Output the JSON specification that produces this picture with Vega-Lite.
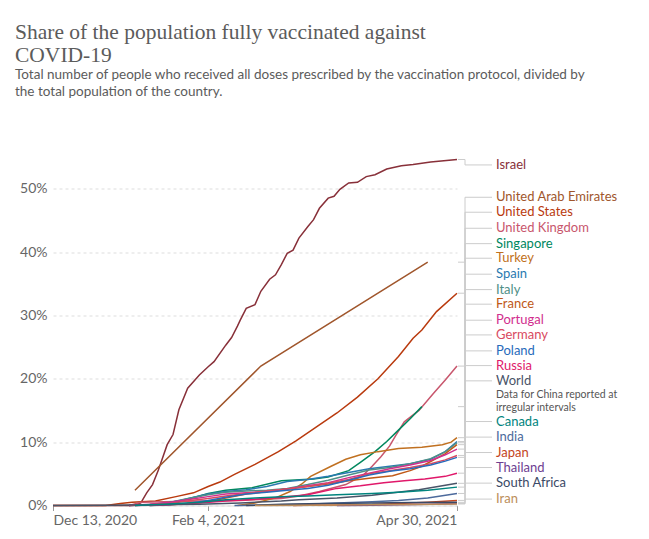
{
  "$schema": "https://vega.github.io/schema/vega-lite/v6.json",
  "width": 404,
  "height": 346,
  "autosize": "none",
  "padding": {"left": 53, "top": 159.5, "right": 192, "bottom": 33.5},
  "background": "white",
  "config": {"view": {"stroke": null}, "font": "Lato"},
  "title": {
    "text": ["Share of the population fully vaccinated against", "COVID-19"],
    "subtitle": ["Total number of people who received all doses prescribed by the vaccination protocol, divided by", "the total population of the country."],
    "anchor": "start", "frame": "group", "dx": -38, "offset": 58,
    "font": "Liberation Serif", "fontSize": 21.5, "fontWeight": "normal", "color": "#5b5b5b", "lineHeight": 23,
    "subtitleFont": "Lato", "subtitleFontSize": 13.5, "subtitleColor": "#5b5b5b", "subtitleLineHeight": 17, "subtitlePadding": 2
  },
  "datasets": {
    "series": [
      {"country": "Israel", "date": "2020-12-13", "share": 0},
      {"country": "Israel", "date": "2021-01-08", "share": 0},
      {"country": "Israel", "date": "2021-01-10", "share": 0.001},
      {"country": "Israel", "date": "2021-01-12", "share": 0.004},
      {"country": "Israel", "date": "2021-01-14", "share": 0.02},
      {"country": "Israel", "date": "2021-01-16", "share": 0.033},
      {"country": "Israel", "date": "2021-01-18", "share": 0.056},
      {"country": "Israel", "date": "2021-01-21", "share": 0.096},
      {"country": "Israel", "date": "2021-01-23", "share": 0.112},
      {"country": "Israel", "date": "2021-01-25", "share": 0.151},
      {"country": "Israel", "date": "2021-01-28", "share": 0.185},
      {"country": "Israel", "date": "2021-02-01", "share": 0.206},
      {"country": "Israel", "date": "2021-02-04", "share": 0.219},
      {"country": "Israel", "date": "2021-02-06", "share": 0.227},
      {"country": "Israel", "date": "2021-02-10", "share": 0.253},
      {"country": "Israel", "date": "2021-02-12", "share": 0.265},
      {"country": "Israel", "date": "2021-02-14", "share": 0.283},
      {"country": "Israel", "date": "2021-02-15", "share": 0.293},
      {"country": "Israel", "date": "2021-02-17", "share": 0.311},
      {"country": "Israel", "date": "2021-02-20", "share": 0.317},
      {"country": "Israel", "date": "2021-02-22", "share": 0.338},
      {"country": "Israel", "date": "2021-02-25", "share": 0.357},
      {"country": "Israel", "date": "2021-02-27", "share": 0.364},
      {"country": "Israel", "date": "2021-03-01", "share": 0.38},
      {"country": "Israel", "date": "2021-03-03", "share": 0.398},
      {"country": "Israel", "date": "2021-03-05", "share": 0.403},
      {"country": "Israel", "date": "2021-03-07", "share": 0.422},
      {"country": "Israel", "date": "2021-03-10", "share": 0.44},
      {"country": "Israel", "date": "2021-03-12", "share": 0.451},
      {"country": "Israel", "date": "2021-03-14", "share": 0.469},
      {"country": "Israel", "date": "2021-03-17", "share": 0.485},
      {"country": "Israel", "date": "2021-03-19", "share": 0.488},
      {"country": "Israel", "date": "2021-03-21", "share": 0.499},
      {"country": "Israel", "date": "2021-03-24", "share": 0.509},
      {"country": "Israel", "date": "2021-03-27", "share": 0.51},
      {"country": "Israel", "date": "2021-03-30", "share": 0.519},
      {"country": "Israel", "date": "2021-04-02", "share": 0.522},
      {"country": "Israel", "date": "2021-04-06", "share": 0.531},
      {"country": "Israel", "date": "2021-04-11", "share": 0.536},
      {"country": "Israel", "date": "2021-04-15", "share": 0.538},
      {"country": "Israel", "date": "2021-04-21", "share": 0.542},
      {"country": "Israel", "date": "2021-04-30", "share": 0.546},
      {"country": "United Arab Emirates", "date": "2021-01-10", "share": 0.024},
      {"country": "United Arab Emirates", "date": "2021-02-22", "share": 0.22},
      {"country": "United Arab Emirates", "date": "2021-04-20", "share": 0.384},
      {"country": "United States", "date": "2020-12-13", "share": 0},
      {"country": "United States", "date": "2020-12-31", "share": 0},
      {"country": "United States", "date": "2021-01-05", "share": 0.003},
      {"country": "United States", "date": "2021-01-09", "share": 0.005},
      {"country": "United States", "date": "2021-01-17", "share": 0.007},
      {"country": "United States", "date": "2021-01-24", "share": 0.014},
      {"country": "United States", "date": "2021-01-30", "share": 0.02},
      {"country": "United States", "date": "2021-02-04", "share": 0.03},
      {"country": "United States", "date": "2021-02-08", "share": 0.037},
      {"country": "United States", "date": "2021-02-13", "share": 0.049},
      {"country": "United States", "date": "2021-02-20", "share": 0.065},
      {"country": "United States", "date": "2021-02-28", "share": 0.085},
      {"country": "United States", "date": "2021-03-06", "share": 0.102},
      {"country": "United States", "date": "2021-03-13", "share": 0.124},
      {"country": "United States", "date": "2021-03-20", "share": 0.146},
      {"country": "United States", "date": "2021-03-27", "share": 0.171},
      {"country": "United States", "date": "2021-04-03", "share": 0.2},
      {"country": "United States", "date": "2021-04-10", "share": 0.235},
      {"country": "United States", "date": "2021-04-15", "share": 0.264},
      {"country": "United States", "date": "2021-04-18", "share": 0.277},
      {"country": "United States", "date": "2021-04-23", "share": 0.306},
      {"country": "United States", "date": "2021-04-30", "share": 0.335},
      {"country": "United Kingdom", "date": "2021-01-08", "share": 0},
      {"country": "United Kingdom", "date": "2021-01-12", "share": 0.005},
      {"country": "United Kingdom", "date": "2021-01-20", "share": 0.006},
      {"country": "United Kingdom", "date": "2021-02-01", "share": 0.007},
      {"country": "United Kingdom", "date": "2021-02-15", "share": 0.008},
      {"country": "United Kingdom", "date": "2021-03-01", "share": 0.011},
      {"country": "United Kingdom", "date": "2021-03-07", "share": 0.015},
      {"country": "United Kingdom", "date": "2021-03-14", "share": 0.022},
      {"country": "United Kingdom", "date": "2021-03-23", "share": 0.033},
      {"country": "United Kingdom", "date": "2021-03-29", "share": 0.048},
      {"country": "United Kingdom", "date": "2021-04-01", "share": 0.062},
      {"country": "United Kingdom", "date": "2021-04-04", "share": 0.077},
      {"country": "United Kingdom", "date": "2021-04-07", "share": 0.094},
      {"country": "United Kingdom", "date": "2021-04-09", "share": 0.11},
      {"country": "United Kingdom", "date": "2021-04-12", "share": 0.132},
      {"country": "United Kingdom", "date": "2021-04-17", "share": 0.15},
      {"country": "United Kingdom", "date": "2021-04-22", "share": 0.177},
      {"country": "United Kingdom", "date": "2021-04-26", "share": 0.198},
      {"country": "United Kingdom", "date": "2021-04-30", "share": 0.22},
      {"country": "Singapore", "date": "2021-01-10", "share": 0},
      {"country": "Singapore", "date": "2021-01-20", "share": 0.003},
      {"country": "Singapore", "date": "2021-01-28", "share": 0.01},
      {"country": "Singapore", "date": "2021-02-04", "share": 0.019},
      {"country": "Singapore", "date": "2021-02-10", "share": 0.024},
      {"country": "Singapore", "date": "2021-02-19", "share": 0.028},
      {"country": "Singapore", "date": "2021-03-01", "share": 0.039},
      {"country": "Singapore", "date": "2021-03-12", "share": 0.042},
      {"country": "Singapore", "date": "2021-03-17", "share": 0.045},
      {"country": "Singapore", "date": "2021-03-24", "share": 0.055},
      {"country": "Singapore", "date": "2021-03-28", "share": 0.068},
      {"country": "Singapore", "date": "2021-04-02", "share": 0.085},
      {"country": "Singapore", "date": "2021-04-06", "share": 0.101},
      {"country": "Singapore", "date": "2021-04-10", "share": 0.119},
      {"country": "Singapore", "date": "2021-04-14", "share": 0.137},
      {"country": "Singapore", "date": "2021-04-18", "share": 0.156},
      {"country": "Turkey", "date": "2021-02-14", "share": 0},
      {"country": "Turkey", "date": "2021-02-20", "share": 0.004},
      {"country": "Turkey", "date": "2021-02-27", "share": 0.012},
      {"country": "Turkey", "date": "2021-03-04", "share": 0.022},
      {"country": "Turkey", "date": "2021-03-08", "share": 0.034},
      {"country": "Turkey", "date": "2021-03-11", "share": 0.046},
      {"country": "Turkey", "date": "2021-03-18", "share": 0.062},
      {"country": "Turkey", "date": "2021-03-23", "share": 0.073},
      {"country": "Turkey", "date": "2021-03-28", "share": 0.08},
      {"country": "Turkey", "date": "2021-04-03", "share": 0.085},
      {"country": "Turkey", "date": "2021-04-10", "share": 0.09},
      {"country": "Turkey", "date": "2021-04-18", "share": 0.092},
      {"country": "Turkey", "date": "2021-04-25", "share": 0.096},
      {"country": "Turkey", "date": "2021-04-28", "share": 0.1},
      {"country": "Turkey", "date": "2021-04-30", "share": 0.107},
      {"country": "Spain", "date": "2021-01-08", "share": 0},
      {"country": "Spain", "date": "2021-01-15", "share": 0.001},
      {"country": "Spain", "date": "2021-01-22", "share": 0.004},
      {"country": "Spain", "date": "2021-01-29", "share": 0.012},
      {"country": "Spain", "date": "2021-02-04", "share": 0.018},
      {"country": "Spain", "date": "2021-02-10", "share": 0.022},
      {"country": "Spain", "date": "2021-02-17", "share": 0.025},
      {"country": "Spain", "date": "2021-02-24", "share": 0.03},
      {"country": "Spain", "date": "2021-03-03", "share": 0.038},
      {"country": "Spain", "date": "2021-03-10", "share": 0.041},
      {"country": "Spain", "date": "2021-03-17", "share": 0.046},
      {"country": "Spain", "date": "2021-03-24", "share": 0.052},
      {"country": "Spain", "date": "2021-03-31", "share": 0.058},
      {"country": "Spain", "date": "2021-04-07", "share": 0.062},
      {"country": "Spain", "date": "2021-04-14", "share": 0.066},
      {"country": "Spain", "date": "2021-04-21", "share": 0.073},
      {"country": "Spain", "date": "2021-04-26", "share": 0.085},
      {"country": "Spain", "date": "2021-04-30", "share": 0.101},
      {"country": "Italy", "date": "2021-01-08", "share": 0},
      {"country": "Italy", "date": "2021-01-15", "share": 0.001},
      {"country": "Italy", "date": "2021-01-22", "share": 0.005},
      {"country": "Italy", "date": "2021-01-29", "share": 0.012},
      {"country": "Italy", "date": "2021-02-04", "share": 0.017},
      {"country": "Italy", "date": "2021-02-10", "share": 0.021},
      {"country": "Italy", "date": "2021-02-17", "share": 0.023},
      {"country": "Italy", "date": "2021-02-24", "share": 0.024},
      {"country": "Italy", "date": "2021-03-03", "share": 0.027},
      {"country": "Italy", "date": "2021-03-10", "share": 0.033},
      {"country": "Italy", "date": "2021-03-17", "share": 0.04},
      {"country": "Italy", "date": "2021-03-24", "share": 0.048},
      {"country": "Italy", "date": "2021-03-31", "share": 0.056},
      {"country": "Italy", "date": "2021-04-07", "share": 0.06},
      {"country": "Italy", "date": "2021-04-14", "share": 0.066},
      {"country": "Italy", "date": "2021-04-21", "share": 0.074},
      {"country": "Italy", "date": "2021-04-26", "share": 0.085},
      {"country": "Italy", "date": "2021-04-30", "share": 0.099},
      {"country": "France", "date": "2021-01-15", "share": 0},
      {"country": "France", "date": "2021-01-22", "share": 0.001},
      {"country": "France", "date": "2021-01-29", "share": 0.003},
      {"country": "France", "date": "2021-02-04", "share": 0.006},
      {"country": "France", "date": "2021-02-10", "share": 0.012},
      {"country": "France", "date": "2021-02-17", "share": 0.018},
      {"country": "France", "date": "2021-02-24", "share": 0.022},
      {"country": "France", "date": "2021-03-03", "share": 0.026},
      {"country": "France", "date": "2021-03-10", "share": 0.03},
      {"country": "France", "date": "2021-03-17", "share": 0.034},
      {"country": "France", "date": "2021-03-24", "share": 0.039},
      {"country": "France", "date": "2021-03-31", "share": 0.043},
      {"country": "France", "date": "2021-04-08", "share": 0.047},
      {"country": "France", "date": "2021-04-14", "share": 0.055},
      {"country": "France", "date": "2021-04-18", "share": 0.062},
      {"country": "France", "date": "2021-04-26", "share": 0.082},
      {"country": "France", "date": "2021-04-30", "share": 0.096},
      {"country": "Portugal", "date": "2021-01-08", "share": 0},
      {"country": "Portugal", "date": "2021-01-15", "share": 0.002},
      {"country": "Portugal", "date": "2021-01-22", "share": 0.005},
      {"country": "Portugal", "date": "2021-01-29", "share": 0.01},
      {"country": "Portugal", "date": "2021-02-04", "share": 0.014},
      {"country": "Portugal", "date": "2021-02-10", "share": 0.018},
      {"country": "Portugal", "date": "2021-02-17", "share": 0.02},
      {"country": "Portugal", "date": "2021-02-24", "share": 0.022},
      {"country": "Portugal", "date": "2021-03-03", "share": 0.026},
      {"country": "Portugal", "date": "2021-03-10", "share": 0.031},
      {"country": "Portugal", "date": "2021-03-17", "share": 0.036},
      {"country": "Portugal", "date": "2021-03-24", "share": 0.044},
      {"country": "Portugal", "date": "2021-03-31", "share": 0.051},
      {"country": "Portugal", "date": "2021-04-07", "share": 0.058},
      {"country": "Portugal", "date": "2021-04-14", "share": 0.064},
      {"country": "Portugal", "date": "2021-04-21", "share": 0.071},
      {"country": "Portugal", "date": "2021-04-26", "share": 0.08},
      {"country": "Portugal", "date": "2021-04-30", "share": 0.089},
      {"country": "Germany", "date": "2021-01-08", "share": 0},
      {"country": "Germany", "date": "2021-01-15", "share": 0.001},
      {"country": "Germany", "date": "2021-01-22", "share": 0.003},
      {"country": "Germany", "date": "2021-01-29", "share": 0.008},
      {"country": "Germany", "date": "2021-02-04", "share": 0.011},
      {"country": "Germany", "date": "2021-02-10", "share": 0.015},
      {"country": "Germany", "date": "2021-02-17", "share": 0.019},
      {"country": "Germany", "date": "2021-02-24", "share": 0.023},
      {"country": "Germany", "date": "2021-03-03", "share": 0.026},
      {"country": "Germany", "date": "2021-03-10", "share": 0.03},
      {"country": "Germany", "date": "2021-03-17", "share": 0.035},
      {"country": "Germany", "date": "2021-03-24", "share": 0.041},
      {"country": "Germany", "date": "2021-03-31", "share": 0.05},
      {"country": "Germany", "date": "2021-04-07", "share": 0.055},
      {"country": "Germany", "date": "2021-04-14", "share": 0.06},
      {"country": "Germany", "date": "2021-04-21", "share": 0.066},
      {"country": "Germany", "date": "2021-04-26", "share": 0.072},
      {"country": "Germany", "date": "2021-04-30", "share": 0.079},
      {"country": "Poland", "date": "2021-01-15", "share": 0},
      {"country": "Poland", "date": "2021-01-22", "share": 0.001},
      {"country": "Poland", "date": "2021-01-29", "share": 0.004},
      {"country": "Poland", "date": "2021-02-04", "share": 0.008},
      {"country": "Poland", "date": "2021-02-10", "share": 0.013},
      {"country": "Poland", "date": "2021-02-17", "share": 0.018},
      {"country": "Poland", "date": "2021-02-24", "share": 0.021},
      {"country": "Poland", "date": "2021-03-03", "share": 0.024},
      {"country": "Poland", "date": "2021-03-10", "share": 0.027},
      {"country": "Poland", "date": "2021-03-17", "share": 0.032},
      {"country": "Poland", "date": "2021-03-24", "share": 0.04},
      {"country": "Poland", "date": "2021-03-31", "share": 0.048},
      {"country": "Poland", "date": "2021-04-07", "share": 0.054},
      {"country": "Poland", "date": "2021-04-14", "share": 0.058},
      {"country": "Poland", "date": "2021-04-21", "share": 0.064},
      {"country": "Poland", "date": "2021-04-26", "share": 0.07},
      {"country": "Poland", "date": "2021-04-30", "share": 0.076},
      {"country": "Russia", "date": "2021-01-10", "share": 0},
      {"country": "Russia", "date": "2021-01-20", "share": 0.001},
      {"country": "Russia", "date": "2021-02-01", "share": 0.004},
      {"country": "Russia", "date": "2021-02-10", "share": 0.007},
      {"country": "Russia", "date": "2021-02-20", "share": 0.01},
      {"country": "Russia", "date": "2021-03-01", "share": 0.013},
      {"country": "Russia", "date": "2021-03-10", "share": 0.017},
      {"country": "Russia", "date": "2021-03-20", "share": 0.027},
      {"country": "Russia", "date": "2021-03-28", "share": 0.031},
      {"country": "Russia", "date": "2021-04-05", "share": 0.036},
      {"country": "Russia", "date": "2021-04-12", "share": 0.039},
      {"country": "Russia", "date": "2021-04-19", "share": 0.042},
      {"country": "Russia", "date": "2021-04-26", "share": 0.046},
      {"country": "Russia", "date": "2021-04-30", "share": 0.051},
      {"country": "World", "date": "2020-12-13", "share": 0},
      {"country": "World", "date": "2021-01-01", "share": 0.0003},
      {"country": "World", "date": "2021-01-15", "share": 0.001},
      {"country": "World", "date": "2021-02-01", "share": 0.002},
      {"country": "World", "date": "2021-02-15", "share": 0.004},
      {"country": "World", "date": "2021-03-01", "share": 0.007},
      {"country": "World", "date": "2021-03-07", "share": 0.009},
      {"country": "World", "date": "2021-03-20", "share": 0.012},
      {"country": "World", "date": "2021-04-01", "share": 0.016},
      {"country": "World", "date": "2021-04-17", "share": 0.025},
      {"country": "World", "date": "2021-04-30", "share": 0.035},
      {"country": "Canada", "date": "2021-01-10", "share": 0},
      {"country": "Canada", "date": "2021-01-20", "share": 0.002},
      {"country": "Canada", "date": "2021-02-01", "share": 0.005},
      {"country": "Canada", "date": "2021-02-10", "share": 0.009},
      {"country": "Canada", "date": "2021-02-20", "share": 0.012},
      {"country": "Canada", "date": "2021-03-01", "share": 0.014},
      {"country": "Canada", "date": "2021-03-10", "share": 0.015},
      {"country": "Canada", "date": "2021-03-20", "share": 0.017},
      {"country": "Canada", "date": "2021-04-01", "share": 0.019},
      {"country": "Canada", "date": "2021-04-10", "share": 0.021},
      {"country": "Canada", "date": "2021-04-20", "share": 0.024},
      {"country": "Canada", "date": "2021-04-30", "share": 0.029},
      {"country": "India", "date": "2021-02-13", "share": 0},
      {"country": "India", "date": "2021-02-20", "share": 0.0005},
      {"country": "India", "date": "2021-03-01", "share": 0.001},
      {"country": "India", "date": "2021-03-10", "share": 0.002},
      {"country": "India", "date": "2021-03-20", "share": 0.004},
      {"country": "India", "date": "2021-04-01", "share": 0.006},
      {"country": "India", "date": "2021-04-10", "share": 0.008},
      {"country": "India", "date": "2021-04-20", "share": 0.012},
      {"country": "India", "date": "2021-04-30", "share": 0.019},
      {"country": "Japan", "date": "2021-03-05", "share": 0},
      {"country": "Japan", "date": "2021-03-10", "share": 0.0002},
      {"country": "Japan", "date": "2021-03-20", "share": 0.0008},
      {"country": "Japan", "date": "2021-04-01", "share": 0.0015},
      {"country": "Japan", "date": "2021-04-10", "share": 0.003},
      {"country": "Japan", "date": "2021-04-20", "share": 0.005},
      {"country": "Japan", "date": "2021-04-30", "share": 0.008},
      {"country": "Thailand", "date": "2021-03-20", "share": 0},
      {"country": "Thailand", "date": "2021-04-01", "share": 0.0005},
      {"country": "Thailand", "date": "2021-04-10", "share": 0.001},
      {"country": "Thailand", "date": "2021-04-20", "share": 0.002},
      {"country": "Thailand", "date": "2021-04-30", "share": 0.003},
      {"country": "South Africa", "date": "2021-02-17", "share": 0},
      {"country": "South Africa", "date": "2021-03-01", "share": 0.002},
      {"country": "South Africa", "date": "2021-03-15", "share": 0.003},
      {"country": "South Africa", "date": "2021-04-01", "share": 0.004},
      {"country": "South Africa", "date": "2021-04-15", "share": 0.0047},
      {"country": "South Africa", "date": "2021-04-30", "share": 0.005},
      {"country": "Iran", "date": "2021-02-20", "share": 0},
      {"country": "Iran", "date": "2021-03-10", "share": 0.0005},
      {"country": "Iran", "date": "2021-04-01", "share": 0.001},
      {"country": "Iran", "date": "2021-04-15", "share": 0.0015},
      {"country": "Iran", "date": "2021-04-30", "share": 0.0025}
    ],
    "labels": [
      {"country": "Israel", "pos": 0.5374, "end": 0.546},
      {"country": "United Arab Emirates", "pos": 0.4864, "end": 0.384},
      {"country": "United States", "pos": 0.4628, "end": 0.335},
      {"country": "United Kingdom", "pos": 0.4375, "end": 0.22},
      {"country": "Singapore", "pos": 0.4132, "end": 0.156},
      {"country": "Turkey", "pos": 0.3902, "end": 0.107},
      {"country": "Spain", "pos": 0.365, "end": 0.101},
      {"country": "Italy", "pos": 0.3407, "end": 0.099},
      {"country": "France", "pos": 0.3177, "end": 0.096},
      {"country": "Portugal", "pos": 0.2924, "end": 0.089},
      {"country": "Germany", "pos": 0.2692, "end": 0.079},
      {"country": "Poland", "pos": 0.244, "end": 0.076},
      {"country": "Russia", "pos": 0.2208, "end": 0.051},
      {"country": "World", "pos": 0.1967, "end": 0.035},
      {"country": "Canada", "pos": 0.1325, "end": 0.029},
      {"country": "India", "pos": 0.1079, "end": 0.019},
      {"country": "Japan", "pos": 0.0836, "end": 0.008},
      {"country": "Thailand", "pos": 0.0599, "end": 0.003},
      {"country": "South Africa", "pos": 0.0353, "end": 0.005},
      {"country": "Iran", "pos": 0.0101, "end": 0.0025}
    ],
    "notes": [
      {"note": "Data for China reported at\nirregular intervals", "pos": 0.1746}
    ]
  },
  "layer": [
    {
      "data": {"name": "series"},
      "mark": {"type": "line", "strokeWidth": 1.5, "interpolate": "linear"},
      "encoding": {
        "x": {
          "field": "date", "type": "temporal",
          "scale": {"type": "utc", "domain": [{"year": 2020, "month": 12, "date": 13, "utc": true}, {"year": 2021, "month": 4, "date": 30, "utc": true}]},
          "axis": {
            "title": null, "format": "%b %-d, %Y", "labelFlush": true,
            "values": [{"year": 2020, "month": 12, "date": 13, "utc": true}, {"year": 2021, "month": 2, "date": 4, "utc": true}, {"year": 2021, "month": 4, "date": 30, "utc": true}],
            "labelFont": "Lato", "labelFontSize": 14, "labelColor": "#666", "labelPadding": 3,
            "domainColor": "#ddd", "tickColor": "#999", "tickSize": 5, "grid": false
          }
        },
        "y": {
          "field": "share", "type": "quantitative",
          "scale": {"domain": [0, 0.546], "nice": false, "zero": true},
          "axis": {
            "title": null, "format": ".0%", "values": [0, 0.1, 0.2, 0.3, 0.4, 0.5],
            "labelFont": "Lato", "labelFontSize": 14, "labelColor": "#666", "labelPadding": 6,
            "domain": false, "ticks": false, "grid": true, "gridColor": "#ddd", "gridDash": [3, 3]
          }
        },
        "color": {
          "field": "country", "type": "nominal", "legend": null,
          "scale": {
            "domain": ["Israel", "United Arab Emirates", "United States", "United Kingdom", "Singapore", "Turkey", "Spain", "Italy", "France", "Portugal", "Germany", "Poland", "Russia", "World", "Canada", "India", "Japan", "Thailand", "South Africa", "Iran"],
            "range": ["#883039", "#a0562c", "#b93a0e", "#c8566d", "#00875e", "#c07020", "#2a7ab0", "#4f8f87", "#c05917", "#d12e8e", "#d94a60", "#286bbb", "#e0186a", "#4a5468", "#00847e", "#4c6a9c", "#c4441c", "#6d3e91", "#3b4a66", "#bc8e5a"]
          }
        }
      }
    },
    {
      "data": {"name": "labels"},
      "mark": {"type": "rule", "color": "#ccc", "strokeWidth": 1, "xOffset": 1, "x2Offset": 8},
      "encoding": {
        "x": {"datum": {"year": 2021, "month": 4, "date": 30, "utc": true}, "type": "temporal"},
        "x2": {"datum": {"year": 2021, "month": 4, "date": 30, "utc": true}},
        "y": {"field": "end", "type": "quantitative"}
      }
    },
    {
      "data": {"name": "labels"},
      "mark": {"type": "rule", "color": "#ccc", "strokeWidth": 1, "xOffset": 8},
      "encoding": {
        "x": {"datum": {"year": 2021, "month": 4, "date": 30, "utc": true}, "type": "temporal"},
        "y": {"field": "end", "type": "quantitative"},
        "y2": {"field": "pos"}
      }
    },
    {
      "data": {"name": "labels"},
      "mark": {"type": "rule", "color": "#ccc", "strokeWidth": 1, "xOffset": 8, "x2Offset": 35},
      "encoding": {
        "x": {"datum": {"year": 2021, "month": 4, "date": 30, "utc": true}, "type": "temporal"},
        "x2": {"datum": {"year": 2021, "month": 4, "date": 30, "utc": true}},
        "y": {"field": "pos", "type": "quantitative"}
      }
    },
    {
      "data": {"name": "labels"},
      "mark": {"type": "text", "align": "left", "baseline": "middle", "dx": 39, "font": "Lato", "fontSize": 13},
      "encoding": {
        "x": {"datum": {"year": 2021, "month": 4, "date": 30, "utc": true}, "type": "temporal"},
        "y": {"field": "pos", "type": "quantitative"},
        "text": {"field": "country"},
        "color": {"field": "country", "type": "nominal", "legend": null}
      }
    },
    {
      "data": {"name": "notes"},
      "mark": {"type": "text", "align": "left", "baseline": "middle", "dx": 39, "font": "Lato", "fontSize": 10.5, "lineHeight": 13.3, "lineBreak": "\n", "color": "#555"},
      "encoding": {
        "x": {"datum": {"year": 2021, "month": 4, "date": 30, "utc": true}, "type": "temporal"},
        "y": {"field": "pos", "type": "quantitative"},
        "text": {"field": "note"}
      }
    }
  ]
}
